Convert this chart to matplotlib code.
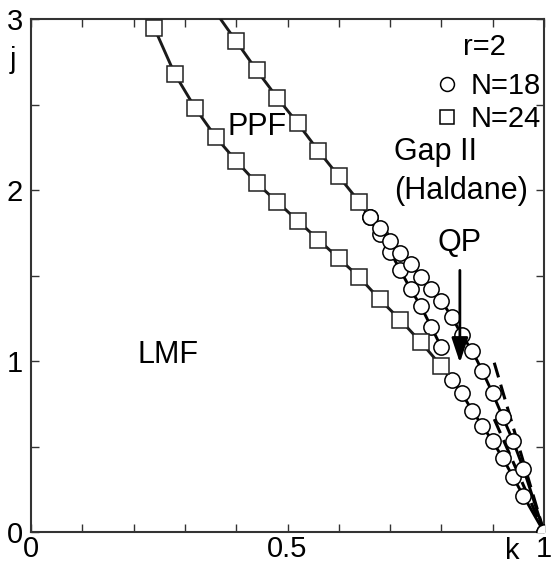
import matplotlib
matplotlib.use('Agg')
import matplotlib.pyplot as plt
from matplotlib.lines import Line2D
from matplotlib.ticker import MultipleLocator

plt.rcParams['font.family'] = ['Liberation Sans', 'DejaVu Sans']

# lower boundary (LMF / PPF), N=24
k_low24 = [0.24, 0.28, 0.32, 0.36, 0.40, 0.44, 0.48, 0.52, 0.56, 0.60, 0.64, 0.68, 0.72, 0.76, 0.80]
j_low24 = [2.95, 2.68, 2.48, 2.31, 2.17, 2.04, 1.93, 1.82, 1.71, 1.60, 1.49, 1.36, 1.24, 1.11, 0.97]
# lower boundary, N=18
k_low18 = [0.80, 0.82, 0.84, 0.86, 0.88, 0.90, 0.92, 0.94, 0.96, 1.00]
j_low18 = [0.97, 0.89, 0.81, 0.71, 0.62, 0.53, 0.43, 0.32, 0.21, 0.00]
# intermediate branch, N=18
k_mid18 = [0.66, 0.68, 0.70, 0.72, 0.74, 0.76, 0.78, 0.80]
j_mid18 = [1.84, 1.74, 1.64, 1.53, 1.42, 1.32, 1.20, 1.08]
# upper boundary (PPF / Gap II), N=24
k_up24 = [0.36, 0.40, 0.44, 0.48, 0.52, 0.56, 0.60, 0.64]
j_up24 = [3.04, 2.87, 2.70, 2.54, 2.39, 2.23, 2.08, 1.93]
# upper boundary, N=18
k_up18 = [0.64, 0.66, 0.68, 0.70, 0.72, 0.74, 0.76, 0.78, 0.80, 0.82, 0.84,
          0.86, 0.88, 0.90, 0.92, 0.94, 0.96, 1.00]
j_up18 = [1.93, 1.84, 1.78, 1.70, 1.63, 1.57, 1.49, 1.42, 1.35, 1.26, 1.15,
          1.06, 0.94, 0.81, 0.67, 0.53, 0.37, 0.00]
# asymptotic dashed lines
k_dashA = [0.903, 1.00]
j_dashA = [0.99, 0.00]
k_dashB = [0.903, 1.00]
j_dashB = [0.66, 0.00]
# QP arrow
k_qp = 0.836
j_qp_start, j_qp_end = 1.53, 0.99

x_ticks = [0, 0.5, 1]
x_ticklabels = ['0', '0.5', '1']
y_ticks = [0, 1, 2, 3]
y_ticklabels = ['0', '1', '2', '3']

fig = plt.figure(figsize=(5.52, 5.68), dpi=100)
ax = fig.add_axes([31/552, 1-532/568, 513/552, 513/568])

lw = 2.1
ms = 11
mew = 1.1
sq = dict(marker='s', ms=ms, mfc='white', mec='#222222', mew=mew, color='#1a1a1a', lw=lw)
ci = dict(marker='o', ms=ms, mfc='white', mec='black', mew=mew, color='black', lw=lw)

ax.plot(k_dashA, j_dashA, ls=(0, (5, 2.5)), color='black', lw=2.2, zorder=2)
ax.plot(k_dashB, j_dashB, ls=(0, (5, 2.5)), color='black', lw=2.2, zorder=2)

ax.plot(k_low18, j_low18, markevery=list(range(1, len(k_low18))), zorder=3, **ci)
ax.plot(k_mid18, j_mid18, zorder=3, **ci)
ax.plot(k_up18, j_up18, markevery=list(range(1, len(k_up18))), zorder=3, **ci)
ax.plot(k_low24, j_low24, zorder=4, **sq)
ax.plot(k_up24, j_up24, markevery=list(range(1, len(k_up24))), zorder=4, **sq)

ax.annotate('', xy=(k_qp, j_qp_end), xytext=(k_qp, j_qp_start),
            arrowprops=dict(arrowstyle='-|>,head_length=0.75,head_width=0.25',
                            mutation_scale=20, lw=2, color='black',
                            shrinkA=0, shrinkB=0), zorder=5)

ax.set_xlim(0, 1)
ax.set_ylim(0, 3)
ax.set_xticks(x_ticks)
ax.set_xticklabels(x_ticklabels)
ax.set_yticks(y_ticks)
ax.set_yticklabels(y_ticklabels)
ax.xaxis.set_minor_locator(MultipleLocator(0.1))
ax.yaxis.set_minor_locator(MultipleLocator(0.5))
ax.tick_params(which='both', direction='in', top=True, right=True,
               length=6, width=1, color='#333333')
ax.tick_params(axis='x', labelsize=21, pad=2)
ax.tick_params(axis='y', labelsize=21, pad=6)
for s in ax.spines.values():
    s.set_linewidth(1.5)
    s.set_color('#333333')

fs = 22
ax.text(0.44, 2.37, 'PPF', fontsize=22, ha='center', va='center')
ax.text(0.267, 1.035, 'LMF', fontsize=22, ha='center', va='center')
ax.text(0.708, 2.175, 'Gap II', fontsize=fs, ha='left', va='baseline')
ax.text(0.708, 1.95, '(Haldane)', fontsize=fs, ha='left', va='baseline')
ax.text(0.836, 1.69, 'QP', fontsize=fs, ha='center', va='center')
ax.text(0.883, 2.836, 'r=2', fontsize=21, ha='center', va='center')

ax.text(-0.035, 2.76, 'j', fontsize=21, ha='center', va='center', clip_on=False)
ax.text(0.938, -0.01, 'k', fontsize=21, ha='center', va='top',
        transform=ax.get_xaxis_transform(), clip_on=False)

handles = [Line2D([], [], marker='o', ls='none', ms=10, mfc='white', mec='black', mew=1.1),
           Line2D([], [], marker='s', ls='none', ms=10, mfc='white', mec='black', mew=1.1)]
leg = ax.legend(handles, ['N=18', 'N=24'], loc='upper right',
                bbox_to_anchor=(0.994, 0.897), frameon=False, fontsize=21,
                borderpad=0, borderaxespad=0,
                handlelength=1.0, handletextpad=0.32, labelspacing=0.17)

fig.savefig('out.png', dpi=100)
